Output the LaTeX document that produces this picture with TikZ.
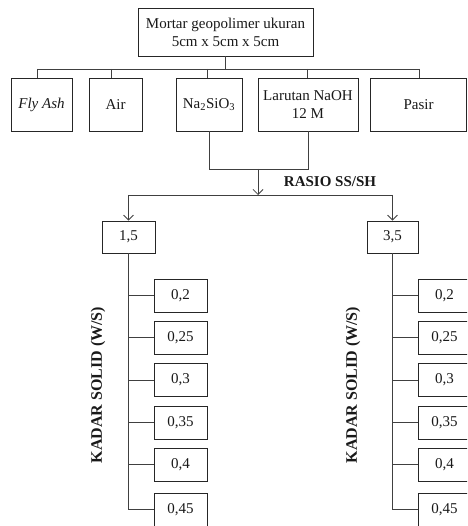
\documentclass[tikz,border=0pt]{standalone}
\usepackage{fontspec}
\setmainfont{Liberation Serif}
\usetikzlibrary{arrows.meta}
\begin{document}
\begin{tikzpicture}[x=1pt,y=-1pt,
  every node/.style={font=\fontsize{15}{18}\selectfont, text=black!90},
  box/.style={draw=black!85, line width=0.8pt, inner sep=0pt, align=center, minimum height=33pt, fill=white},
  ln/.style={draw=black!75, line width=0.8pt},
  arr/.style={ln, -{Straight Barb[length=5pt,width=10pt]}},
  lab/.style={font=\fontsize{15}{18}\selectfont\bfseries},
  klab/.style={font=\fontsize{16}{18}\selectfont\bfseries, rotate=90}]
\clip (0,0) rectangle (467,526);
% top
\node[box, minimum width=175pt, minimum height=48pt] (top) at (225.5,32) {Mortar geopolimer ukuran\\5cm x 5cm x 5cm};
% row
\node[box, minimum width=61pt, minimum height=53pt] (fly) at (41.5,104.5) {\textit{Fly Ash}};
\node[box, minimum width=53pt, minimum height=53pt] (air) at (115.5,104.5) {Air};
\node[box, minimum width=66pt, minimum height=53pt] (na) at (209,104.5) {Na\textsubscript{2}SiO\textsubscript{3}};
\node[box, minimum width=100pt, minimum height=53pt] (naoh) at (308,104.5) {Larutan NaOH\\12 M};
\node[box, minimum width=96pt, minimum height=53pt] (pasir) at (418.5,104.5) {Pasir};
% bus
\coordinate (b1) at (37,69);
\coordinate (b2) at (111,69);
\coordinate (b3) at (207,69);
\coordinate (b4) at (307,69);
\coordinate (b5) at (419,69);
\draw[ln] (top.south) -- (top.south |- b1);
\draw[ln] (b1) -- (b5);
\draw[ln] (b1) -- (b1 |- fly.north);
\draw[ln] (b2) -- (b2 |- air.north);
\draw[ln] (b3) -- (b3 |- na.north);
\draw[ln] (b4) -- (b4 |- naoh.north);
\draw[ln] (b5) -- (b5 |- pasir.north);
% join
\coordinate (j) at (258,169);
\coordinate (s) at (258,195);
\draw[ln] (na.south) -- (na.south |- j) -- (naoh.south |- j) -- (naoh.south);
\draw[arr] (j) -- (s);
\node[lab] (rasio) at (330,182) {RASIO SS/SH};
% ratio boxes
\node[box, minimum width=53pt, minimum height=32pt] (r1) at (128.5,237) {1,5};
\node[box, minimum width=51pt, minimum height=32pt] (r2) at (392.5,237) {3,5};
\draw[ln] (r1.north |- s) -- (r2.north |- s);
\draw[arr] (r1.north |- s) -- (r1.north);
\draw[arr] (r2.north |- s) -- (r2.north);
% children
\foreach \i/\y/\t in {1/295.5/{0,2},2/337.5/{0,25},3/380/{0,3},4/422.5/{0,35},5/464.5/{0,4},6/509.5/{0,45}}{
  \node[box, minimum width=53pt] (l\i) at (180.5,\y) {\t};
  \node[box, minimum width=53pt] (q\i) at (444.5,\y) {\t};
}
\draw[ln] (r1.south) -- (r1.south |- l6.west);
\draw[ln] (r2.south) -- (r2.south |- q6.west);
\foreach \i in {1,...,6}{
  \draw[ln] (r1.south |- l\i.west) -- (l\i.west);
  \draw[ln] (r2.south |- q\i.west) -- (q\i.west);
}
\node[klab] (k1) at (98,385) {KADAR SOLID (W/S)};
\node[klab] (k2) at (353,385) {KADAR SOLID (W/S)};
\end{tikzpicture}
\end{document}
